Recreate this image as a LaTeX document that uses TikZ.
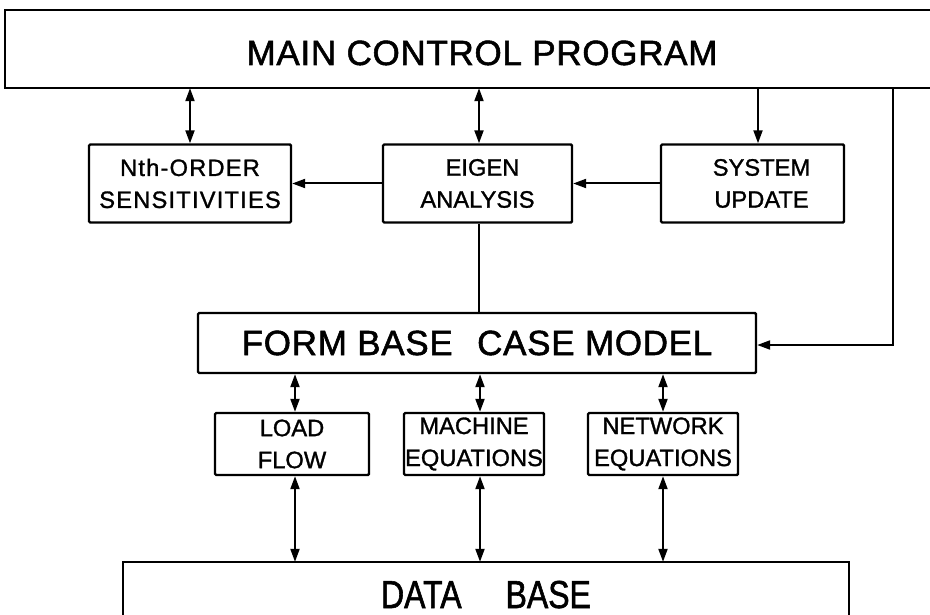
\documentclass[tikz,border=0pt]{standalone}
\usepackage{fontspec}
\setmainfont{Liberation Sans}
\newfontfamily\boxfont[FakeBold=1.2]{Liberation Sans}
\newfontfamily\widefont[LetterSpace=5,FakeBold=1.2]{Liberation Sans}
\newfontfamily\titlefont[LetterSpace=2,FakeBold=1.5]{Liberation Sans}
\newfontfamily\dbfont[FakeStretch=0.82,FakeBold=1.5]{Liberation Sans}
\usetikzlibrary{arrows.meta}
\begin{document}
\begin{tikzpicture}[x=1pt,y=-1pt,
  frame/.style={line width=2.4pt, line join=miter},
  blk/.style={draw, line width=2.4pt, rectangle, rounded corners=1.2pt, inner sep=0pt,
    align=center, font=\boxfont\fontsize{23.7}{32}\selectfont},
  conn/.style={line width=2pt},
  arr/.style={conn, -{Triangle[length=13pt,width=9pt]}},
  dbl/.style={conn, {Triangle[length=13pt,width=9pt]}-{Triangle[length=13pt,width=9pt]}}
]
\useasboundingbox (0,0) rectangle (930,615);

% main control program (open to the right)
\node[inner sep=0pt, minimum width=954pt, minimum height=78pt,
      text height=32pt, text depth=0pt,
      font=\titlefont\fontsize{35}{40}\selectfont] (main) at (482,49) {MAIN CONTROL PROGRAM};
\coordinate (mr) at (930,49);
\draw[frame] (main.north -| mr) -- (main.north west) -- (main.south west) -- (main.south -| mr);

% second row
\node[blk, minimum width=202pt, minimum height=78pt] (nth) at (190,183.5)
  {\widefont Nth-ORDER\\\widefont SENSITIVITIES};
\node[blk, minimum width=189pt, minimum height=78pt] (eig) at (477.5,183.5)
  {\hspace*{10pt}EIGEN\\ANALYSIS};
\node[blk, minimum width=183pt, minimum height=78pt] (su) at (752.5,183.5)
  {\hspace*{18pt}SYSTEM\\\hspace*{18pt}UPDATE};

% form base case model
\node[blk, minimum width=558pt, minimum height=60pt,
      font=\titlefont\fontsize{35}{40}\selectfont] (fbcm) at (477,343)
  {FORM BASE\hspace{14pt} CASE MODEL};

% third row
\node[blk, minimum width=154pt, minimum height=62pt] (lf) at (292,444) {LOAD\\FLOW};
\node[blk, minimum width=140pt, minimum height=62pt] (me) at (474,444) {MACHINE\\EQUATIONS};
\node[blk, minimum width=150pt, minimum height=62pt] (ne) at (663,444) {NETWORK\\EQUATIONS};

% data base (cut off at the bottom)
\node[inner sep=0pt, minimum width=726pt, minimum height=78pt,
      text height=28pt, text depth=14pt,
      font=\dbfont\fontsize{39}{44}\selectfont] (db) at (486,601) {DATA\hspace{44pt}BASE};
\coordinate (mb) at (486,615);
\draw[frame] (db.west |- mb) -- (db.north west) -- (db.north east) -- (db.east |- mb);

% connectors
\draw[dbl] (main.south -| nth.north) -- (nth.north);
\draw[dbl] ([xshift=1.5pt]main.south -| eig.north) -- ([xshift=1.5pt]eig.north);
\draw[arr] ([xshift=5.5pt]main.south -| su.north) -- ([xshift=5.5pt]su.north);
\draw[arr] (eig.west) -- (nth.east);
\draw[arr] (su.west) -- (eig.east);
\draw[conn] ([xshift=1.5pt]eig.south) -- ([xshift=1.5pt]eig.south |- fbcm.north);
\coordinate (tap) at (893,88);
\draw[arr] (tap) |- ([yshift=-2pt]fbcm.east);

\draw[dbl] ([xshift=3pt]fbcm.south -| lf.north) -- ([xshift=3pt]lf.north);
\draw[dbl] ([xshift=6pt]fbcm.south -| me.north) -- ([xshift=6pt]me.north);
\draw[dbl] (fbcm.south -| ne.north) -- (ne.north);

\draw[dbl] ([xshift=3pt]lf.south) -- ([xshift=3pt]lf.south |- db.north);
\draw[dbl] ([xshift=6pt]me.south) -- ([xshift=6pt]me.south |- db.north);
\draw[dbl] (ne.south) -- (ne.south |- db.north);
\end{tikzpicture}
\end{document}
